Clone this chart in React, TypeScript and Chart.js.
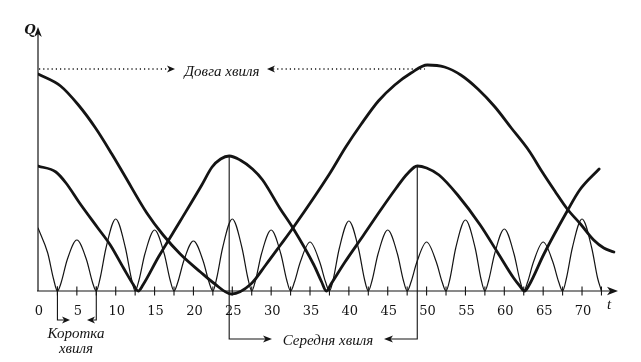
import React, { useEffect, useRef } from "react";
import { Chart, registerables } from "chart.js";

Chart.register(...registerables);

// ---- Data ----
// Long wave (thick)
const longT = [0, 2.9, 5.2, 7.4, 9.5, 11.1, 14.0, 16.1, 18.3, 20.9, 22.6, 24.9, 27.4, 29.3, 31.2, 32.8, 37.5, 39.6, 41.6, 43.8, 45.9, 48.0, 50.1, 52.3, 54.4, 56.6, 58.8, 60.9, 63.2, 64.8, 66.5, 68.1, 69.8, 71.5, 72.8, 74.1];
const longQ = [217, 205, 186, 163, 137, 116, 78, 56, 37, 19, 8, -3, 7, 26, 46, 63, 117, 144, 167, 190, 206, 218, 226, 224, 216, 202, 184, 163, 140, 120, 100, 82, 67, 51, 43, 39];

// Medium wave (thick)
const midT = [0, 2.3, 3.6, 5.35, 7.7, 9.3, 11.0, 12.3, 12.9, 13.5, 15.5, 18.3, 21.0, 22.4, 23.5, 24.6, 26.0, 27.6, 28.9, 31.1, 32.8, 35.5, 36.5, 37.1, 37.7, 39.5, 41.9, 44.0, 46.1, 47.5, 48.8, 50.0, 51.6, 54.0, 56.9, 59.1, 61.2, 62.0, 62.6, 63.2, 65.1, 68.1, 69.7, 72.2];
const midQ = [125, 119, 108, 88, 63, 46, 23, 6, 0, 6, 34, 70, 105, 124, 132, 135, 131, 122, 111, 83, 63, 26, 9, 0, 7, 29, 56, 80, 103, 117, 125, 123, 116, 96, 66, 39, 13, 5, 0, 6, 37, 80, 101, 122];

// Short wave (thin)
const shortT = [0, 1.25, 2, 2.5,
  3, 3.75, 5, 6.25, 7, 7.5,
  8, 8.75, 10, 11.25, 12, 12.5,
  13, 13.75, 15, 16.25, 17, 17.5,
  18, 18.75, 20, 21.25, 22, 22.5,
  23, 23.75, 25, 26.25, 27, 27.5,
  28, 28.75, 30, 31.25, 32, 32.5,
  33, 33.75, 35, 36.25, 37, 37.5,
  38, 38.75, 40, 41.25, 42, 42.5,
  43, 43.75, 45, 46.25, 47, 47.5,
  48, 48.75, 50, 51.25, 52, 52.5,
  53, 53.75, 55, 56.25, 57, 57.5,
  58, 58.75, 60, 61.25, 62, 62.5,
  63, 63.75, 65, 66.25, 67, 67.5,
  68, 68.75, 70, 71.25, 72, 72.5];
const shortQ = [63, 38, 12, 0,
  9, 31, 51, 31, 9, 0,
  13, 43, 72, 43, 13, 0,
  11, 37, 61, 37, 11, 0,
  9, 30, 50, 30, 9, 0,
  13, 43, 72, 43, 13, 0,
  11, 37, 61, 37, 11, 0,
  9, 29, 49, 29, 9, 0,
  12, 42, 70, 42, 12, 0,
  11, 37, 61, 37, 11, 0,
  9, 29, 49, 29, 9, 0,
  12, 43, 71, 43, 12, 0,
  11, 37, 62, 37, 11, 0,
  9, 29, 49, 29, 9, 0,
  13, 43, 72, 43, 13, 0];

// Axis ticks and labels
const tickValues = [2.5, 5, 7.5, 10, 12.5, 15, 17.5, 20, 22.5, 25, 27.5, 30, 32.5, 35, 37.5, 40, 42.5, 45, 47.5, 50, 52.5, 55, 57.5, 60, 62.5, 65, 67.5, 70, 72.5];
const labelValues = [0, 5, 10, 15, 20, 25, 30, 35, 40, 45, 50, 55, 60, 65, 70];
const tickLabels = ["0", "5", "10", "15", "20", "25", "30", "35", "40", "45", "50", "55", "60", "65", "70"];

// Annotations
const yAxisTitle = "Q";
const xAxisTitle = "t";
const longLabel = "Довга хвиля";
const longLevel = 222;
const shortLabel1 = "Коротка";
const shortLabel2 = "хвиля";
const shortMarks = [2.5, 7.5];
const midLabel = "Середня хвиля";
const midPeakT = [24.6, 48.8];
const midPeakQ = [135, 125];

const INK = "#141414";
const SERIF = '"DejaVu Serif", "Liberation Serif", serif';
const ITALIC = '"Liberation Serif", "DejaVu Serif", serif';

function arrowHead(ctx: CanvasRenderingContext2D, x: number, y: number, dx: number, dy: number, L = 9, W = 3.8, N = 2.5) {
  const px = -dy, py = dx;
  const bx = x - dx * L, by = y - dy * L;
  ctx.beginPath();
  ctx.moveTo(x, y);
  ctx.lineTo(bx + px * W, by + py * W);
  ctx.lineTo(x - dx * (L - N), y - dy * (L - N));
  ctx.lineTo(bx - px * W, by - py * W);
  ctx.closePath();
  ctx.fill();
}

const drawPlugin = {
  id: "handDrawnAxes",
  afterDatasetsDraw(chart: any) {
    const ctx: CanvasRenderingContext2D = chart.ctx;
    const xs = chart.scales.x;
    const ys = chart.scales.y;
    const X = (t: number) => xs.getPixelForValue(t);
    const Y = (q: number) => ys.getPixelForValue(q);
    const x0 = X(0);
    const y0 = Y(0);
    ctx.save();
    ctx.strokeStyle = INK;
    ctx.fillStyle = INK;
    ctx.lineWidth = 1.2;
    ctx.lineCap = "butt";

    // x axis
    const xTip = 618;
    ctx.beginPath();
    ctx.moveTo(x0 - 1, y0);
    ctx.lineTo(xTip - 6, y0);
    ctx.stroke();
    arrowHead(ctx, xTip, y0, 1, 0, 11, 4.2, 3);

    // y axis
    const yTip = 27;
    ctx.beginPath();
    ctx.moveTo(x0, y0);
    ctx.lineTo(x0, yTip + 6);
    ctx.stroke();
    arrowHead(ctx, x0, yTip, 0, -1, 10, 3.8, 3);

    // ticks
    ctx.lineWidth = 1.1;
    tickValues.forEach((t) => {
      const x = X(t);
      ctx.beginPath();
      ctx.moveTo(x, y0 - 4.5);
      ctx.lineTo(x, y0 + 4.5);
      ctx.stroke();
    });

    // tick labels
    ctx.font = `13px ${SERIF}`;
    ctx.textAlign = "center";
    ctx.textBaseline = "middle";
    labelValues.forEach((t, i) => {
      ctx.fillText(tickLabels[i], X(t) + 1, y0 + 21);
    });

    // axis titles
    ctx.font = `italic bold 13px ${SERIF}`;
    ctx.fillText(yAxisTitle, x0 - 8, 31);
    ctx.font = `italic 15px ${ITALIC}`;
    ctx.fillText(xAxisTitle, 609, y0 + 14);

    // long wave annotation (dotted arrows)
    const yl = Y(longLevel);
    ctx.save();
    ctx.setLineDash([1.2, 3]);
    ctx.lineWidth = 1.3;
    ctx.beginPath();
    ctx.moveTo(x0 + 1, yl);
    ctx.lineTo(168, yl);
    ctx.moveTo(273, yl);
    ctx.lineTo(425, yl);
    ctx.stroke();
    ctx.restore();
    arrowHead(ctx, 175, yl, 1, 0, 8, 3.6, 2.2);
    arrowHead(ctx, 267, yl, -1, 0, 8, 3.6, 2.2);
    ctx.font = `italic 15px ${ITALIC}`;
    ctx.fillText(longLabel, 222, yl + 3);

    // short wave annotation
    ctx.lineWidth = 1.1;
    const sy = 320;
    const [sa, sb] = shortMarks;
    ctx.beginPath();
    ctx.moveTo(X(sa), y0 - 4.5);
    ctx.lineTo(X(sa), sy);
    ctx.lineTo(64, sy);
    ctx.moveTo(X(sb), y0 - 4.5);
    ctx.lineTo(X(sb), sy);
    ctx.lineTo(92, sy);
    ctx.stroke();
    arrowHead(ctx, 70, sy, 1, 0, 8, 3.4, 2.2);
    arrowHead(ctx, 87, sy, -1, 0, 8, 3.4, 2.2);
    ctx.fillText(shortLabel1, 76, 334);
    ctx.fillText(shortLabel2, 76, 349);

    // medium wave annotation
    const my = 339;
    const xa = X(midPeakT[0]);
    const xb = X(midPeakT[1]);
    ctx.beginPath();
    ctx.moveTo(xa, Y(midPeakQ[0]));
    ctx.lineTo(xa, my);
    ctx.lineTo(266, my);
    ctx.moveTo(xb, Y(midPeakQ[1]));
    ctx.lineTo(xb, my);
    ctx.lineTo(390, my);
    ctx.stroke();
    arrowHead(ctx, 272, my, 1, 0, 9, 3.6, 2.4);
    arrowHead(ctx, 384, my, -1, 0, 9, 3.6, 2.4);
    ctx.fillText(midLabel, 328, my + 2);

    ctx.restore();
  },
};

function toPoints(ts: number[], qs: number[]) {
  return ts.map((t, i) => ({ x: t, y: qs[i] }));
}

export default function App() {
  const canvasRef = useRef<HTMLCanvasElement | null>(null);

  useEffect(() => {
    const canvas = canvasRef.current;
    if (!canvas) return;
    const common = {
      pointRadius: 0,
      borderColor: INK,
      fill: false,
      cubicInterpolationMode: "monotone" as const,
    };
    const chart = new Chart(canvas, {
      type: "line",
      data: {
        datasets: [
          { ...common, label: "Коротка хвиля", data: toPoints(shortT, shortQ), borderWidth: 1.2 },
          { ...common, label: "Середня хвиля", data: toPoints(midT, midQ), borderWidth: 2.8 },
          { ...common, label: "Довга хвиля", data: toPoints(longT, longQ), borderWidth: 2.8 },
        ],
      },
      options: {
        animation: false,
        responsive: false,
        devicePixelRatio: 1,
        layout: { padding: { left: 38, right: 24, top: 23, bottom: 65 } },
        plugins: { legend: { display: false }, tooltip: { enabled: false } },
        scales: {
          x: { type: "linear", min: 0, max: 74.5, display: false },
          y: { type: "linear", min: -6, max: 268, display: false },
        },
        elements: { line: { borderCapStyle: "round", borderJoinStyle: "round" } },
      },
      plugins: [drawPlugin],
    });
    return () => chart.destroy();
  }, []);

  return (
    <div style={{ position: "absolute", left: 0, top: 0, width: 641, height: 362, background: "#fff" }}>
      <canvas ref={canvasRef} width={641} height={362} style={{ display: "block" }} />
    </div>
  );
}
